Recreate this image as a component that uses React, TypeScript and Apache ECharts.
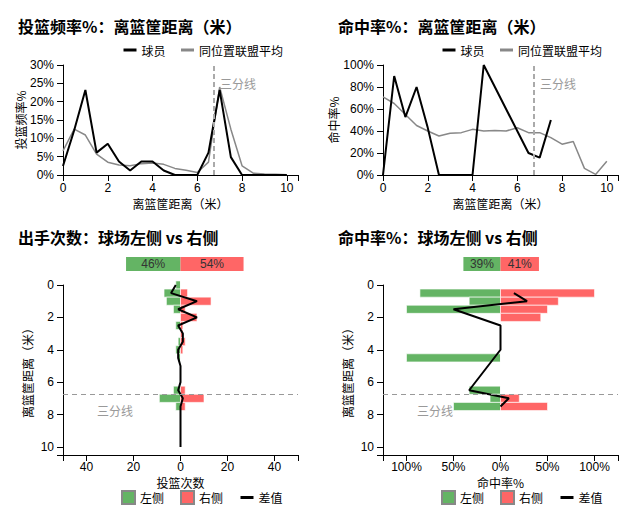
import React, { useEffect, useRef } from 'react';
import * as echarts from 'echarts';

// ---- data ----
const distances = [0, 0.5, 1, 1.5, 2, 2.5, 3, 3.5, 4, 4.5, 5, 5.5, 6, 6.5, 7, 7.5, 8, 8.5, 9, 9.5, 10];
const leftShots = [2, 7, 6, 3, 0, 2, 0, 1, 2, 1, 0, 0, 0, 3, 9, 2, 0, 0, 0, 0, 0];
const leftMade = [0, 6, 2, 3, 0, 0, 0, 0, 0, 1, 0, 0, 0, 1, 1, 1, 0, 0, 0, 0, 0];
const rightShots = [0, 3, 13, 2, 7, 1, 1, 2, 1, 0, 0, 0, 0, 2, 10, 2, 0, 0, 0, 0, 0];
const rightMade = [0, 3, 8, 1, 3, 0, 0, 0, 0, 0, 0, 0, 0, 0, 2, 1, 0, 0, 0, 0, 0];
const leagueFreq = [6.6, 12.5, 10.9, 5.7, 3.5, 2.7, 2.5, 3.1, 3.3, 2.9, 1.8, 1.3, 0.7, 3.5, 24.0, 12.5, 2.5, 0.5, 0.3, 0.2, 0.1];
const leagueFg = [71, 65, 55, 45, 40, 35.5, 38, 38.5, 41.5, 40, 40.5, 40, 43, 38.5, 38.5, 34, 28, 30.5, 6, 0.5, 12.5];
const threePointLine = 6.75;

const titles = ['投篮频率%：离篮筐距离（米）', '命中率%：离篮筐距离（米）', '出手次数：球场左侧 vs 右侧', '命中率%：球场左侧 vs 右侧'];
const lineLegend = ['球员', '同位置联盟平均'];
const sideLegend = ['左侧', '右侧', '差值'];

// ---- derived values ----
const totalShots = leftShots.reduce((a, b) => a + b, 0) + rightShots.reduce((a, b) => a + b, 0);
const playerFreq = distances.map((_, i) => ((leftShots[i] + rightShots[i]) / totalShots) * 100);
const playerFg = distances.map((_, i) => {
  const s = leftShots[i] + rightShots[i];
  return s ? ((leftMade[i] + rightMade[i]) / s) * 100 : null;
});
const leftFg = distances.map((_, i) => (leftShots[i] ? leftMade[i] / leftShots[i] : null));
const rightFg = distances.map((_, i) => (rightShots[i] ? rightMade[i] / rightShots[i] : null));
const sumL = leftShots.reduce((a, b) => a + b, 0);
const sumR = rightShots.reduce((a, b) => a + b, 0);
const leftShare = (sumL / totalShots) * 100;
const rightShare = (sumR / totalShots) * 100;
const leftFgAll = (leftMade.reduce((a, b) => a + b, 0) / sumL) * 100;
const rightFgAll = (rightMade.reduce((a, b) => a + b, 0) / sumR) * 100;

const GREEN = '#64b464';
const RED = '#ff6666';
const FONT = "'Noto Sans CJK SC', 'Noto Sans', sans-serif";
const NUM_FONT = "'Liberation Sans', 'Noto Sans', sans-serif";
const BIN_HALF = 0.25;

const G = [
  { left: 63, top: 65, width: 235, height: 110 },
  { left: 383, top: 65, width: 235, height: 110 },
  { left: 63, top: 285, width: 235, height: 170 },
  { left: 383, top: 285, width: 235, height: 170 },
  { left: 63, top: 257, width: 235, height: 14 },
  { left: 383, top: 257, width: 235, height: 14 },
];

function axis(extra: any) {
  const { axisLabel, ...rest } = extra;
  return {
    type: 'value',
    axisLine: { show: true, onZero: false, lineStyle: { color: '#000', width: 1 } },
    axisTick: { show: true, length: 6, lineStyle: { color: '#000' } },
    axisLabel: { color: '#000', fontSize: 12, margin: 9, fontFamily: NUM_FONT, ...(axisLabel || {}) },
    splitLine: { show: false },
    nameTextStyle: { color: '#000', fontSize: 12 },
    nameLocation: 'middle',
    ...rest,
  };
}

function barRender(color: string) {
  return (params: any, api: any) => {
    const d = api.value(0);
    const v = api.value(1);
    const a = api.coord([0, d - BIN_HALF]);
    const b = api.coord([v, d + BIN_HALF]);
    return {
      type: 'rect',
      shape: {
        x: Math.min(a[0], b[0]),
        y: Math.min(a[1], b[1]),
        width: Math.abs(b[0] - a[0]),
        height: Math.abs(b[1] - a[1]),
      },
      style: { fill: color, stroke: 'rgba(255,255,255,0.6)', lineWidth: 1 },
    };
  };
}

function buildOption() {
  const distLabel = (v: number) => (v % 2 === 0 ? String(v) : '');
  const markV = {
    silent: true,
    symbol: ['none', 'none'],
    label: { show: false },
    lineStyle: { color: '#aaa', type: [5, 3], width: 2 },
    data: [{ xAxis: threePointLine }],
  };
  const markH = {
    silent: true,
    symbol: ['none', 'none'],
    label: { show: false },
    lineStyle: { color: '#999', type: [5, 4], width: 1.2 },
    data: [{ yAxis: threePointLine }],
  };
  const shotDiff = distances.map((d, i) => [rightShots[i] - leftShots[i], d]);
  const fgDiff: number[][] = [];
  distances.forEach((d, i) => {
    if (leftFg[i] !== null && rightFg[i] !== null) fgDiff.push([(rightFg[i] as number) - (leftFg[i] as number), d]);
  });
  const legendText = { fontSize: 12, color: '#000' };
  const sideData = [
    { name: sideLegend[0], icon: 'rect' },
    { name: sideLegend[1], icon: 'rect' },
    { name: sideLegend[2], itemStyle: { opacity: 0 } },
  ];
  const barLabel = (fn: () => string) => ({
    show: true, position: 'inside', color: '#333', fontSize: 12, fontFamily: NUM_FONT, formatter: fn,
  });
  return {
    animation: false,
    textStyle: { fontFamily: FONT },
    title: titles.map((t, i) => ({
      text: t,
      left: i % 2 === 0 ? 18 : 338,
      top: i < 2 ? 18 : 229,
      padding: 0,
      textStyle: { fontSize: 16, fontWeight: 'bold', color: '#000', fontFamily: FONT },
    })),
    legend: [
      { data: lineLegend, left: 122, top: 44, padding: 0, itemWidth: 13, itemHeight: 12, itemGap: 14, itemStyle: { opacity: 0 }, lineStyle: { width: 3 }, textStyle: legendText },
      { data: lineLegend, left: 441, top: 44, padding: 0, itemWidth: 13, itemHeight: 12, itemGap: 14, itemStyle: { opacity: 0 }, lineStyle: { width: 3 }, textStyle: legendText },
      { data: sideData, left: 121, top: 490, padding: 0, itemWidth: 13, itemHeight: 13, itemGap: 16, lineStyle: { width: 3 }, textStyle: legendText },
      { data: sideData, left: 441, top: 490, padding: 0, itemWidth: 13, itemHeight: 13, itemGap: 16, lineStyle: { width: 3 }, textStyle: legendText },
    ],
    grid: G.map((g) => ({ ...g, containLabel: false })),
    xAxis: [
      axis({ gridIndex: 0, min: 0, max: 10.5, interval: 2, axisLabel: { formatter: distLabel, margin: 7 }, name: '离篮筐距离（米）', nameGap: 22 }),
      axis({ gridIndex: 1, min: 0, max: 10.5, interval: 2, axisLabel: { formatter: distLabel, margin: 7 }, name: '离篮筐距离（米）', nameGap: 22 }),
      axis({ gridIndex: 2, min: -50, max: 50, splitNumber: 5, axisLabel: { margin: 6, formatter: (v: number) => (Math.abs(v) >= 50 ? '' : String(Math.abs(v))) }, name: '投篮次数', nameGap: 21 }),
      axis({ gridIndex: 3, min: -1.25, max: 1.25, splitNumber: 5, axisLabel: { margin: 6, formatter: (v: number) => (Math.abs(v) > 1.01 ? '' : Math.round(Math.abs(v) * 100) + '%') }, name: '命中率%', nameGap: 21 }),
      { type: 'value', gridIndex: 4, min: -100, max: 100, show: false },
      { type: 'value', gridIndex: 5, min: -125, max: 125, show: false },
    ],
    yAxis: [
      axis({ gridIndex: 0, min: 0, max: 30, interval: 5, axisLabel: { formatter: (v: number) => v + '%' }, name: '投篮频率%', nameGap: 30 }),
      axis({ gridIndex: 1, min: 0, max: 100, interval: 20, axisLabel: { formatter: (v: number) => v + '%' }, name: '命中率%', nameGap: 30 }),
      axis({ gridIndex: 2, min: 0, max: 10.5, interval: 2, inverse: true, axisLabel: { formatter: distLabel }, name: '离篮筐距离（米）', nameGap: 30 }),
      axis({ gridIndex: 3, min: 0, max: 10.5, interval: 2, inverse: true, axisLabel: { formatter: distLabel }, name: '离篮筐距离（米）', nameGap: 30 }),
      { type: 'category', gridIndex: 4, data: ['share'], show: false },
      { type: 'category', gridIndex: 5, data: ['fg'], show: false },
    ],
    series: [
      // top-left
      {
        type: 'line', name: lineLegend[1], xAxisIndex: 0, yAxisIndex: 0, symbol: 'none', z: 2,
        lineStyle: { color: '#888', width: 1.5 }, itemStyle: { color: '#888' },
        data: distances.map((d, i) => [d, leagueFreq[i]]), markLine: markV,
      },
      {
        type: 'line', name: lineLegend[0], xAxisIndex: 0, yAxisIndex: 0, symbol: 'none', z: 3,
        lineStyle: { color: '#000', width: 2 }, itemStyle: { color: '#000' },
        data: distances.map((d, i) => [d, playerFreq[i]]),
      },
      // top-right
      {
        type: 'line', name: lineLegend[1], xAxisIndex: 1, yAxisIndex: 1, symbol: 'none', z: 2,
        lineStyle: { color: '#888', width: 1.5 }, itemStyle: { color: '#888' },
        data: distances.map((d, i) => [d, leagueFg[i]]), markLine: markV,
      },
      {
        type: 'line', name: lineLegend[0], xAxisIndex: 1, yAxisIndex: 1, symbol: 'none', z: 3,
        lineStyle: { color: '#000', width: 2 }, itemStyle: { color: '#000' },
        data: distances.map((d, i) => [d, playerFg[i]]).filter((p) => p[1] !== null),
      },
      // bottom-left
      {
        type: 'custom', name: sideLegend[0], xAxisIndex: 2, yAxisIndex: 2, z: 2,
        itemStyle: { color: GREEN, borderColor: '#888', borderWidth: 1 },
        encode: { x: 1, y: 0 }, renderItem: barRender(GREEN),
        data: distances.map((d, i) => [d, -leftShots[i]]),
      },
      {
        type: 'custom', name: sideLegend[1], xAxisIndex: 2, yAxisIndex: 2, z: 2,
        itemStyle: { color: RED, borderColor: '#888', borderWidth: 1 },
        encode: { x: 1, y: 0 }, renderItem: barRender(RED),
        data: distances.map((d, i) => [d, rightShots[i]]),
      },
      {
        type: 'line', name: sideLegend[2], xAxisIndex: 2, yAxisIndex: 2, symbol: 'none', z: 4,
        lineStyle: { color: '#000', width: 2 }, itemStyle: { color: '#000' },
        data: shotDiff, markLine: markH,
      },
      // bottom-right
      {
        type: 'custom', name: sideLegend[0], xAxisIndex: 3, yAxisIndex: 3, z: 2,
        itemStyle: { color: GREEN, borderColor: '#888', borderWidth: 1 },
        encode: { x: 1, y: 0 }, renderItem: barRender(GREEN),
        data: distances.map((d, i) => [d, leftFg[i] === null ? 0 : -(leftFg[i] as number)]),
      },
      {
        type: 'custom', name: sideLegend[1], xAxisIndex: 3, yAxisIndex: 3, z: 2,
        itemStyle: { color: RED, borderColor: '#888', borderWidth: 1 },
        encode: { x: 1, y: 0 }, renderItem: barRender(RED),
        data: distances.map((d, i) => [d, rightFg[i] === null ? 0 : (rightFg[i] as number)]),
      },
      {
        type: 'line', name: sideLegend[2], xAxisIndex: 3, yAxisIndex: 3, symbol: 'none', z: 4,
        lineStyle: { color: '#000', width: 2 }, itemStyle: { color: '#000' },
        data: fgDiff, markLine: markH,
      },
      // share bars
      {
        type: 'bar', name: 'shareL', xAxisIndex: 4, yAxisIndex: 4, barWidth: '100%', barGap: '-100%',
        itemStyle: { color: GREEN }, data: [-leftShare], label: barLabel(() => Math.round(leftShare) + '%'),
      },
      {
        type: 'bar', name: 'shareR', xAxisIndex: 4, yAxisIndex: 4, barWidth: '100%', barGap: '-100%',
        itemStyle: { color: RED }, data: [rightShare], label: barLabel(() => Math.round(rightShare) + '%'),
      },
      {
        type: 'bar', name: 'fgL', xAxisIndex: 5, yAxisIndex: 5, barWidth: '100%', barGap: '-100%',
        itemStyle: { color: GREEN }, data: [-leftFgAll], label: barLabel(() => Math.round(leftFgAll) + '%'),
      },
      {
        type: 'bar', name: 'fgR', xAxisIndex: 5, yAxisIndex: 5, barWidth: '100%', barGap: '-100%',
        itemStyle: { color: RED }, data: [rightFgAll], label: barLabel(() => Math.round(rightFgAll) + '%'),
      },
    ],
  };
}

export default function App() {
  const ref = useRef<HTMLDivElement>(null);
  useEffect(() => {
    if (!ref.current) return;
    const chart = echarts.init(ref.current, null, { renderer: 'svg' });
    chart.setOption(buildOption() as any);
    const txt = (x: number, y: number) => ({
      type: 'text', x, y, silent: true,
      style: { text: '三分线', fill: '#999', fontSize: 12, fontFamily: FONT, verticalAlign: 'middle', align: 'left' },
    });
    const p0 = chart.convertToPixel({ xAxisIndex: 0, yAxisIndex: 0 }, [threePointLine, 30]) as number[];
    const p1 = chart.convertToPixel({ xAxisIndex: 1, yAxisIndex: 1 }, [threePointLine, 100]) as number[];
    const p2 = chart.convertToPixel({ xAxisIndex: 2, yAxisIndex: 2 }, [-50, threePointLine]) as number[];
    const p3 = chart.convertToPixel({ xAxisIndex: 3, yAxisIndex: 3 }, [-1.25, threePointLine]) as number[];
    chart.setOption({
      graphic: [
        txt(p0[0] + 6, p0[1] + 18),
        txt(p1[0] + 6, p1[1] + 18),
        txt(p2[0] + 34, p2[1] + 16),
        txt(p3[0] + 34, p3[1] + 16),
      ],
    });
    return () => chart.dispose();
  }, []);
  return <div ref={ref} style={{ position: 'absolute', left: 0, top: 0, width: 633, height: 519 }} />;
}
